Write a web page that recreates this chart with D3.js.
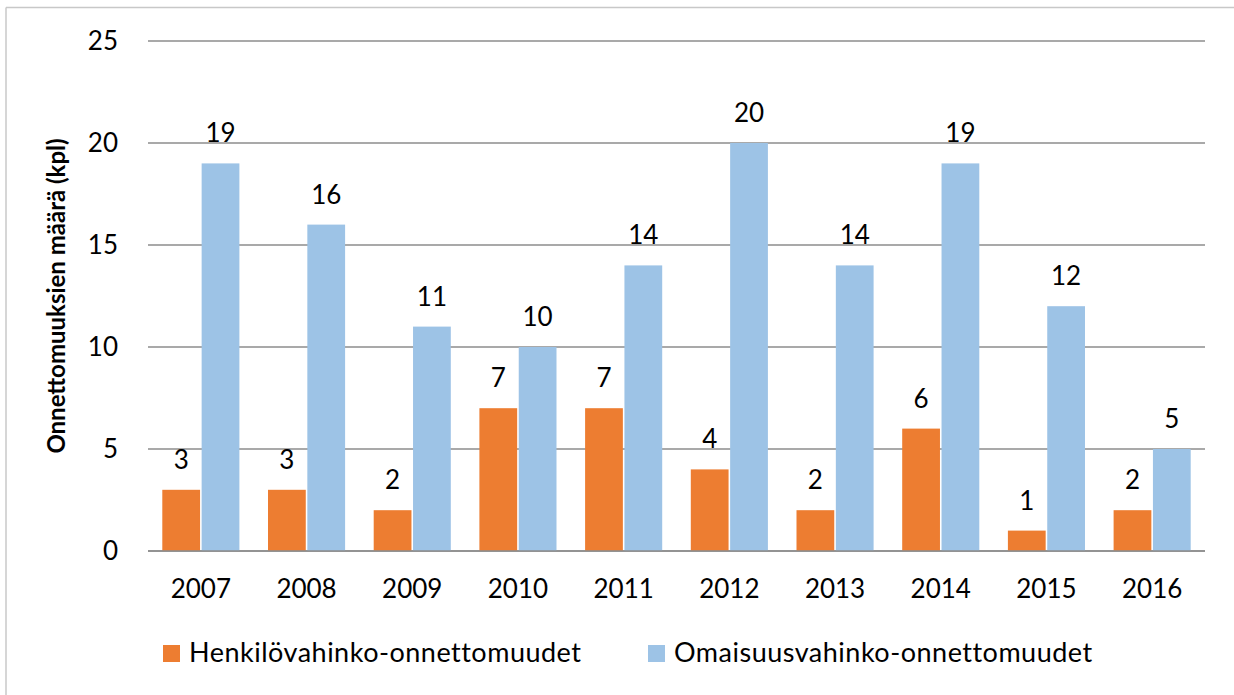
<!DOCTYPE html>
<html>
<head>
<meta charset="utf-8">
<script src="https://cdn.jsdelivr.net/npm/d3@7"></script>
<style>
  body { margin: 0; background: #fff; }
  svg { display: block; font-family: Lato, Carlito, "Open Sans", sans-serif; }
</style>
</head>
<body>
<svg id="chart" width="1234" height="695"></svg>
<script>
const years = ["2007", "2008", "2009", "2010", "2011", "2012", "2013", "2014", "2015", "2016"];
const henkilo = [3, 3, 2, 7, 7, 4, 2, 6, 1, 2];
const omaisuus = [19, 16, 11, 10, 14, 20, 14, 19, 12, 5];
const seriesNames = ["Henkilövahinko-onnettomuudet", "Omaisuusvahinko-onnettomuudet"];
const yTicks = [0, 5, 10, 15, 20, 25];

const colors = ["#ED7D31", "#9DC3E6"];
const svg = d3.select("#chart");

// chart frame (only top and left edges show in the picture)
svg.append("line").attr("x1", 6).attr("x2", 1234).attr("y1", 7.5).attr("y2", 7.5)
  .attr("stroke", "#c8c8c8").attr("stroke-width", 1.5);
svg.append("line").attr("x1", 6).attr("x2", 6).attr("y1", 7.5).attr("y2", 695)
  .attr("stroke", "#c8c8c8").attr("stroke-width", 1.5);

const plotLeft = 148, plotRight = 1205, plotTop = 41, plotBottom = 551;

const x = d3.scaleBand().domain(years).range([plotLeft, plotRight]).paddingInner(0).paddingOuter(0);
const y = d3.scaleLinear().domain([0, 25]).range([plotBottom, plotTop]);
const inner = d3.scaleBand().domain([0, 1]).range([14.3, x.bandwidth() - 14.3]).paddingInner(0.04);

// gridlines
svg.append("g")
  .selectAll("line")
  .data(yTicks)
  .join("line")
  .attr("x1", plotLeft).attr("x2", plotRight)
  .attr("y1", d => y(d)).attr("y2", d => y(d))
  .attr("stroke", "#8c8c8c")
  .attr("stroke-width", 1.5);

// y tick labels
svg.append("g")
  .attr("font-size", 26)
  .attr("text-anchor", "end")
  .selectAll("text")
  .data(yTicks)
  .join("text")
  .attr("x", 118)
  .attr("y", d => y(d))
  .attr("dy", "0.36em")
  .text(d => d);

const series = [henkilo, omaisuus];
series.forEach((vals, si) => {
  const g = svg.append("g");
  g.selectAll("rect")
    .data(vals)
    .join("rect")
    .attr("x", (d, i) => x(years[i]) + inner(si))
    .attr("y", d => y(d))
    .attr("width", inner.bandwidth())
    .attr("height", d => y(0) - y(d))
    .attr("fill", colors[si]);

  g.selectAll("text")
    .data(vals)
    .join("text")
    .attr("font-size", 26)
    .attr("text-anchor", "middle")
    .attr("x", (d, i) => x(years[i]) + inner(si) + inner.bandwidth() / 2)
    .attr("y", d => y(d) - 21)
    .text(d => d);
});

// redraw the baseline above the bars
svg.append("line")
  .attr("x1", plotLeft).attr("x2", plotRight)
  .attr("y1", y(0)).attr("y2", y(0))
  .attr("stroke", "#8c8c8c").attr("stroke-width", 1.5);

// x labels
svg.append("g")
  .attr("font-size", 26)
  .attr("text-anchor", "middle")
  .selectAll("text")
  .data(years)
  .join("text")
  .attr("x", d => x(d) + x.bandwidth() / 2)
  .attr("y", 598)
  .text(d => d);

// y axis title
svg.append("text")
  .attr("transform", "translate(65,296) rotate(-90)")
  .attr("text-anchor", "middle")
  .attr("font-size", 24)
  .attr("font-weight", "bold")
  .text("Onnettomuuksien määrä (kpl)");

// legend
const legendX = [163, 648];
const legend = svg.append("g").selectAll("g")
  .data(seriesNames)
  .join("g")
  .attr("transform", (d, i) => `translate(${legendX[i]},662)`);
legend.append("rect")
  .attr("x", 0).attr("y", -17)
  .attr("width", 17).attr("height", 17)
  .attr("fill", (d, i) => colors[i]);
legend.append("text")
  .attr("x", 26)
  .attr("y", 0)
  .attr("font-size", 27)
  .attr("letter-spacing", 0.5)
  .text(d => d);
</script>
</body>
</html>
